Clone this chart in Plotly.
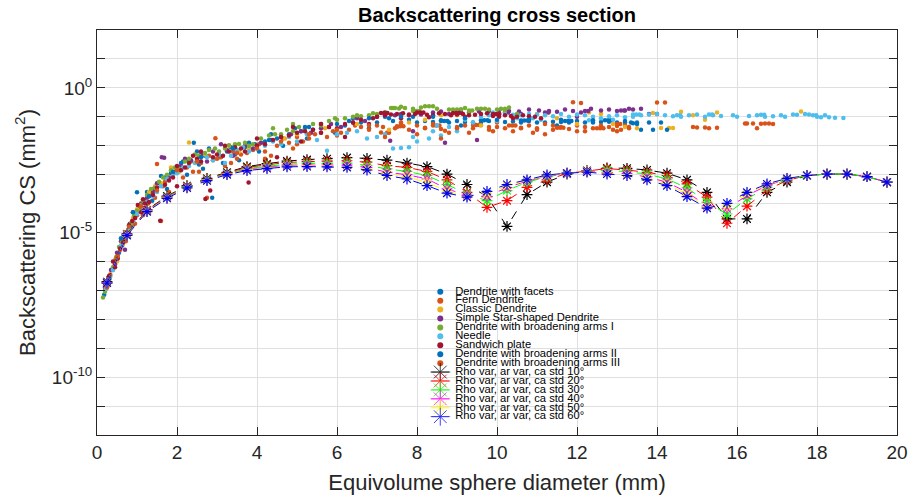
import plotly.graph_objects as go

# ---------------- data (diameter mm, log10 of backscattering CS in mm^2) ----------------
dendrite_facets = [
    (0.18, -7.15), (0.25, -6.8), (0.33, -6.5), (0.42, -6.2), (0.55, -5.7), (0.63, -5.45), (0.72, -5.2),
    (0.85, -4.8), (0.97, -4.4), (1.05, -4.1), (1.18, -3.9), (1.3, -3.75), (1.42, -3.5), (1.55, -3.3),
    (1.7, -3.1), (1.85, -2.95), (2.0, -2.8), (2.15, -2.55), (2.3, -2.5), (2.42, -1.9), (2.55, -2.65),
    (2.7, -2.35), (2.88, -3.8), (3.05, -2.4), (3.25, -2.2), (3.45, -2.3), (3.7, -2.05), (3.95, -1.95),
    (4.2, -1.85), (4.5, -1.75), (4.8, -1.6), (5.1, -1.5), (5.4, -1.45), (5.8, -1.35), (6.2, -1.3),
    (6.6, -1.2), (7.0, -1.2), (7.4, -1.15), (7.8, -1.1), (8.2, -1.15), (8.6, -1.12), (9.0, -1.15),
    (9.4, -1.2), (9.8, -1.15), (10.2, -1.18), (10.6, -1.2), (11.0, -1.2), (11.4, -1.17), (11.8, -1.2),
    (12.2, -1.2), (12.6, -1.18), (13.0, -1.2), (13.4, -1.22), (13.8, -1.2), (14.1, -1.2), (13.6, -1.45),
    (13.9, -1.45), (1.0, -3.61),
    (0.3, -6.55), (0.45, -6.0), (0.68, -5.3), (0.9, -4.65), (1.12, -4.25), (1.25, -3.6), (1.38, -3.9),
    (1.6, -3.05), (1.75, -3.5), (2.1, -2.6), (2.25, -3.0), (2.5, -2.2), (2.65, -2.8), (2.8, -2.1),
    (3.15, -2.6), (3.35, -2.05), (3.55, -2.5), (3.8, -1.9), (4.05, -2.2), (4.35, -1.6), (4.65, -2.0),
    (4.95, -1.4), (5.25, -1.75), (5.6, -1.25), (5.95, -1.55), (6.4, -1.05), (6.8, -1.4), (7.2, -1.0),
    (7.6, -1.3), (8.0, -1.2), (8.4, -1.18), (8.8, -1.2), (9.2, -1.18), (9.6, -1.2), (10.0, -1.15),
    (10.4, -1.16), (10.8, -1.15), (11.2, -1.2), (11.6, -1.18), (12.0, -1.15), (12.4, -1.2), (12.8, -1.17),
    (13.2, -1.2), (13.35, -1.2), (13.5, -1.2), (11.5, -1.3), (9.1, -1.3),
    (8.6, -1.15), (8.68, -1.15), (8.76, -1.15), (9.6, -1.12), (9.68, -1.12), (9.76, -1.12), (10.6, -1.13),
    (10.68, -1.13), (10.76, -1.13), (11.7, -1.15), (11.78, -1.15), (11.86, -1.15), (12.7, -1.12),
    (12.78, -1.12), (12.86, -1.12), (7.3, -1.05), (7.9, -1.0), (6.3, -1.15), (5.3, -1.35),
]
fern_dendrite = [
    (0.2, -7.0), (0.28, -6.6), (0.38, -6.3), (0.47, -5.9), (0.58, -5.6), (0.68, -5.2), (0.78, -4.95),
    (0.9, -4.6), (1.0, -4.4), (1.1, -4.15), (1.2, -3.95), (1.35, -3.7), (1.5, -3.45), (1.6, -4.6),
    (1.7, -3.25), (1.9, -3.0), (2.05, -2.85), (2.25, -2.75), (2.4, -2.9), (2.6, -2.6), (2.75, -3.8),
    (2.9, -2.5), (3.1, -2.4), (3.35, -2.6), (3.6, -2.3), (3.9, -2.15), (4.2, -2.2), (4.5, -2.0),
    (4.8, -1.9), (5.0, -1.7), (5.3, -1.75), (5.6, -1.55), (5.9, -1.5), (6.3, -1.45), (6.6, -1.35),
    (7.0, -1.3), (7.3, -1.55), (7.6, -1.25), (8.0, -1.3), (8.4, -1.25), (8.8, -1.55), (9.2, -1.3),
    (9.6, -1.28), (10.0, -1.35), (10.4, -1.5), (10.8, -1.3), (11.2, -1.25), (11.6, -1.35), (12.0, -1.3),
    (12.4, -1.4), (12.8, -1.35), (13.1, -1.45), (13.3, -1.4), (14.0, -0.51), (14.2, -0.51), (14.9, -1.35),
    (15.2, -1.37), (15.5, -1.38), (16.2, -1.23), (16.4, -1.23), (16.6, -1.24), (16.8, -1.23), (16.5, -1.4),
    (11.9, -0.5), (12.1, -0.52), (2.96, -1.74), (1.5, -2.63),
    (0.33, -6.45), (0.52, -5.8), (0.72, -5.3), (0.95, -4.7), (1.15, -4.4), (1.28, -4.0), (1.45, -3.8),
    (1.65, -3.4), (1.8, -3.6), (2.15, -3.1), (2.35, -2.55), (2.55, -2.9), (2.8, -2.35), (3.2, -2.7),
    (3.5, -2.45), (3.75, -2.25), (4.05, -1.95), (4.35, -2.35), (4.65, -1.75), (4.9, -2.1), (5.15, -1.85),
    (5.45, -1.6), (5.75, -1.7), (6.1, -1.55), (6.45, -1.3), (6.8, -1.45), (7.15, -1.35), (7.45, -1.4),
    (7.8, -1.45), (8.2, -1.38), (8.6, -1.42), (9.0, -1.35), (9.4, -1.4), (9.8, -1.35), (10.2, -1.4),
    (10.6, -1.38), (11.0, -1.4), (11.4, -1.3), (11.8, -1.42), (12.2, -1.35), (12.6, -1.3), (13.0, -1.32),
    (13.2, -1.3), (16.25, -1.23), (16.7, -1.23), (15.0, -1.37), (8.0, -1.6), (9.3, -1.55), (10.9, -1.55),
    (12.0, -1.5), (7.6, -1.2), (10.0, -1.2), (11.2, -1.6), (7.1, -1.54), (7.25, -1.55),
    (7.5, -1.33), (7.58, -1.33), (7.66, -1.33), (8.4, -1.3), (8.48, -1.3), (8.56, -1.3), (9.4, -1.28),
    (9.48, -1.28), (9.56, -1.28), (10.3, -1.3), (10.38, -1.3), (10.46, -1.3), (11.5, -1.38), (11.58, -1.38),
    (11.66, -1.38), (12.5, -1.4), (12.58, -1.4), (12.66, -1.4), (13.0, -1.25), (13.08, -1.25), (8.7, -1.48),
    (9.9, -1.5), (11.0, -1.45), (12.9, -1.45), (6.0, -1.65), (5.0, -1.95), (4.2, -2.45), (3.4, -2.2),
]
classic_dendrite = [
    (0.3, -6.7), (0.5, -6.0), (0.75, -5.0), (1.0, -4.2), (1.3, -3.6), (1.6, -3.3), (1.85, -2.75),
    (2.3, -1.89), (2.5, -2.5), (2.9, -2.45), (3.3, -2.0), (3.8, -2.1), (4.4, -1.8), (5.0, -1.6),
    (5.7, -1.4), (6.5, -1.25), (7.3, -1.45), (8.2, -1.1), (9.0, -0.95), (9.6, -1.3), (10.4, -1.0),
    (11.0, -0.9), (11.5, -1.05), (12.3, -0.85), (12.9, -1.25), (13.5, -1.4), (14.1, -1.39), (14.3, -1.39),
    (14.6, -0.83), (14.9, -0.95), (15.2, -1.1), (17.6, -0.82), (13.9, -0.87),
    (0.4, -6.3), (0.65, -5.4), (0.9, -4.5), (1.15, -3.95), (1.45, -3.4), (2.05, -2.9), (2.7, -2.3),
    (3.55, -2.2), (4.7, -1.75), (6.0, -1.45), (7.8, -1.2), (8.6, -0.95), (10.0, -0.92), (11.3, -0.85),
    (12.0, -1.25), (12.6, -0.9), (13.2, -1.35), (14.4, -1.39), (15.5, -0.85),
]
simple_star_dendrite = [
    (0.2, -6.9), (0.35, -6.3), (0.45, -6.1), (0.6, -5.3), (0.7, -5.6), (0.82, -4.7), (0.95, -4.5),
    (1.1, -4.0), (1.25, -3.8), (1.4, -3.6), (1.62, -2.4), (1.68, -2.42), (1.8, -3.1), (2.1, -2.7),
    (2.35, -2.5), (2.6, -2.3), (2.9, -2.2), (3.1, -1.95), (3.4, -2.35), (3.7, -2.0), (4.1, -1.9),
    (4.6, -1.7), (5.1, -1.5), (5.6, -1.4), (6.1, -1.35), (6.7, -1.15), (7.2, -0.85), (7.6, -0.9),
    (7.9, -1.5), (8.4, -0.85), (8.8, -0.9), (9.3, -0.85), (9.8, -0.8), (10.3, -0.8), (10.8, -0.75),
    (11.3, -0.8), (11.7, -0.75), (12.1, -0.85), (12.6, -0.78), (13.0, -0.8), (13.4, -0.75), (13.8, -0.9),
    (14.0, -0.9), (8.7, -1.9), (9.5, -1.8), (7.33, -1.83),
    (0.28, -6.6), (0.5, -5.7), (0.9, -4.3), (1.2, -4.15), (1.5, -3.3), (1.95, -2.9), (2.2, -2.45),
    (2.75, -2.55), (3.25, -2.15), (3.9, -2.1), (4.35, -1.8), (4.85, -1.6), (5.35, -1.55), (5.85, -1.25),
    (6.4, -1.2), (7.0, -1.0), (7.45, -0.95), (8.1, -0.92), (8.6, -0.82), (9.1, -0.8), (9.55, -0.82),
    (10.05, -0.78), (10.55, -0.82), (11.05, -0.78), (11.5, -0.83), (11.9, -0.8), (12.35, -0.72),
    (12.8, -0.75), (13.2, -0.78), (13.6, -0.72), (10.6, -0.9), (12.0, -1.0),
    (9.0, -0.83), (9.08, -0.83), (10.2, -0.85), (10.28, -0.85), (11.2, -0.85), (11.28, -0.85), (12.2, -0.8),
    (12.28, -0.8), (13.1, -0.78), (13.18, -0.78), (13.3, -0.72), (7.8, -0.95), (6.5, -1.05),
]
broadening_arms_1 = [
    (0.15, -7.25), (0.25, -6.9), (0.4, -6.2), (0.55, -5.5), (0.7, -5.15), (0.85, -4.7), (1.0, -4.25),
    (1.15, -3.9), (1.35, -3.5), (1.55, -3.25), (1.75, -3.0), (1.95, -2.75), (2.2, -2.55), (2.45, -2.3),
    (2.7, -2.25), (2.95, -2.1), (3.2, -2.1), (3.45, -1.95), (3.7, -1.9), (3.9, -1.95), (4.3, -1.65),
    (4.6, -1.6), (4.9, -1.5), (5.2, -1.4), (5.6, -1.3), (6.0, -1.1), (6.4, -1.0), (6.8, -0.95),
    (7.2, -0.85), (7.4, -0.7), (7.6, -0.65), (7.9, -0.72), (8.1, -0.68), (8.5, -0.72), (8.8, -0.75),
    (9.2, -0.7), (9.5, -0.72), (9.8, -0.75), (10.1, -0.72), (10.3, -0.68), (10.5, -0.9),
    (0.2, -7.05), (0.32, -6.55), (0.48, -5.85), (0.62, -5.35), (0.78, -4.95), (0.93, -4.4), (1.08, -4.05),
    (1.25, -3.7), (1.45, -3.45), (1.65, -3.1), (1.85, -2.85), (2.05, -2.8), (2.3, -2.45), (2.55, -2.35),
    (2.8, -2.15), (3.05, -2.2), (3.3, -1.98), (3.55, -1.94), (3.8, -2.0), (4.1, -1.75), (4.45, -1.6),
    (4.75, -1.45), (5.05, -1.35), (5.4, -1.25), (5.8, -1.15), (6.2, -1.05), (6.6, -0.98), (7.0, -0.9),
    (7.35, -0.7), (7.45, -0.7), (7.55, -0.71), (7.7, -0.7), (8.2, -0.64), (8.3, -0.64), (8.4, -0.64),
    (8.9, -0.75), (9.0, -0.75), (9.1, -0.74), (9.6, -0.72), (9.7, -0.72), (10.0, -0.75), (10.2, -0.72),
    (9.3, -0.9), (8.0, -0.85),
    (7.9, -0.8), (7.98, -0.8), (8.06, -0.8), (9.3, -0.78), (9.38, -0.78), (10.2, -0.8), (6.9, -0.88),
    (6.5, -0.95), (5.95, -1.05), (4.9, -1.25), (4.4, -1.4),
]
needle = [
    (0.22, -6.95), (0.4, -6.3), (0.6, -5.45), (0.8, -4.85), (1.0, -4.35), (1.25, -3.95), (1.5, -3.6),
    (1.75, -3.15), (2.0, -2.95), (2.3, -2.7), (2.6, -2.55), (2.9, -2.5), (3.2, -2.6), (3.5, -2.15),
    (3.8, -2.2), (4.2, -2.0), (4.6, -1.95), (5.0, -1.85), (5.5, -1.8), (6.0, -1.6), (6.5, -1.5),
    (7.0, -1.7), (7.4, -2.1), (7.6, -2.08), (7.8, -2.05), (8.0, -1.85), (8.3, -1.75), (8.6, -1.65),
    (9.0, -1.5), (9.4, -1.2), (9.8, -0.95), (10.2, -0.9), (10.6, -0.95), (11.0, -0.92), (11.4, -0.98),
    (11.8, -1.0), (12.2, -0.95), (12.6, -1.05), (13.0, -0.95), (13.4, -1.0), (13.8, -0.92), (14.2, -0.95),
    (14.6, -1.0), (15.0, -0.92), (15.4, -0.95), (15.9, -0.95), (16.3, -0.97), (16.7, -1.0), (17.1, -0.95),
    (17.4, -0.92), (17.7, -0.9), (18.0, -1.0), (18.3, -1.02), (18.66, -1.04), (8.5, -1.3), (10.0, -1.15),
    (5.75, -2.17),
    (0.32, -6.6), (0.7, -5.1), (0.9, -4.6), (1.15, -4.2), (1.4, -3.75), (1.6, -3.4), (1.9, -3.05),
    (2.15, -2.75), (2.45, -2.6), (2.75, -2.4), (3.05, -2.3), (3.35, -2.35), (3.65, -2.05), (4.0, -2.1),
    (4.4, -1.85), (4.8, -1.7), (5.25, -1.6), (6.25, -1.55), (6.75, -1.75), (7.2, -1.6), (7.9, -1.7),
    (8.4, -1.5), (8.8, -1.35), (9.2, -1.1), (9.6, -1.0), (10.4, -0.93), (10.8, -0.9), (11.2, -0.95),
    (11.6, -0.9), (12.0, -0.92), (12.4, -1.0), (12.8, -0.98), (13.2, -1.02), (13.6, -0.95), (14.0, -0.9),
    (14.4, -0.98), (14.8, -0.95), (15.2, -1.0), (15.6, -0.97), (16.0, -1.0), (16.5, -0.95), (16.9, -0.98),
    (17.2, -1.0), (17.5, -0.93), (17.8, -0.92), (18.1, -1.02), (18.45, -1.03), (12.3, -1.12), (10.9, -1.05),
    (13.4, -0.92), (13.48, -0.92), (13.56, -0.92), (14.5, -0.95), (14.58, -0.95), (15.3, -0.92),
    (15.38, -0.92), (16.6, -0.93), (16.68, -0.93), (17.9, -0.95), (17.98, -0.95), (18.2, -0.95),
    (11.1, -1.1), (10.5, -1.05), (12.9, -1.1), (9.9, -0.85),
]
sandwich_plate = [
    (0.25, -6.8), (0.4, -6.0), (0.52, -5.9), (0.65, -5.35), (0.8, -4.75), (0.95, -4.5), (1.1, -4.3),
    (1.2, -4.0), (1.4, -3.7), (1.58, -4.59), (1.7, -3.35), (1.9, -3.1), (2.1, -2.85), (2.3, -2.6),
    (2.5, -2.45), (2.71, -3.84), (2.83, -3.55), (3.0, -2.3), (3.3, -2.2), (3.6, -2.1), (3.79, -3.27),
    (4.0, -2.0), (4.4, -1.8), (4.8, -1.65), (5.2, -1.5), (5.6, -1.55), (6.0, -1.4), (6.4, -1.2),
    (6.8, -1.25), (7.2, -0.95), (7.5, -0.9), (7.8, -0.92), (8.1, -0.88), (8.4, -0.95), (8.7, -0.9),
    (9.0, -0.92), (9.3, -0.95), (9.6, -0.9), (9.9, -0.97), (10.2, -0.95), (10.5, -1.0), (10.8, -0.98),
    (11.1, -1.05), (6.2, -1.7), (5.1, -1.85),
    (0.3, -6.5), (0.45, -6.2), (0.58, -5.55), (0.72, -5.0), (0.88, -4.6), (1.02, -4.05), (1.15, -3.85),
    (1.3, -3.95), (1.5, -3.45), (1.8, -3.2), (2.0, -2.7), (2.2, -2.75), (2.4, -2.35), (2.6, -2.55),
    (2.9, -2.4), (3.15, -2.35), (3.45, -2.05), (3.7, -2.2), (4.2, -1.95), (4.6, -1.7), (5.0, -1.55),
    (5.4, -1.45), (5.8, -1.35), (6.2, -1.25), (6.6, -1.1), (7.0, -1.0), (7.35, -0.92), (7.65, -0.88),
    (7.95, -0.9), (8.25, -0.93), (8.55, -0.88), (8.85, -0.95), (9.15, -0.9), (9.45, -0.93), (9.75, -0.88),
    (10.05, -1.0), (10.35, -0.97), (10.65, -0.95), (10.95, -1.0), (2.0, -3.4), (3.2, -2.95), (4.5, -2.4),
    (7.1, -0.87), (7.18, -0.87), (7.26, -0.87), (8.0, -0.85), (8.08, -0.85), (8.16, -0.85), (8.9, -0.87),
    (8.98, -0.87), (9.06, -0.87), (9.9, -0.9), (9.98, -0.9), (10.06, -0.9), (6.9, -1.05), (7.6, -1.05),
    (8.3, -1.02), (9.2, -1.0), (10.4, -1.05), (4.0, -1.75), (4.9, -1.35), (5.6, -1.25), (3.2, -2.0),
    (2.6, -2.2),
]
broadening_arms_2 = [
    (0.3, -6.6), (0.6, -5.2), (0.9, -4.3), (1.3, -3.75), (1.9, -2.9), (2.6, -2.4), (3.4, -2.1),
    (4.3, -1.8), (5.2, -1.35), (6.0, -1.25), (6.8, -1.05), (7.6, -1.0), (8.4, -1.0), (9.2, -1.05),
    (10.0, -1.1), (10.8, -1.1), (11.6, -1.1), (12.4, -1.12), (13.2, -1.15), (13.5, -1.25), (14.25, -1.45),
]
broadening_arms_3 = [
    (0.25, -6.9), (0.5, -5.85), (0.8, -4.8), (1.1, -4.1), (1.5, -3.55), (2.0, -2.85), (2.5, -2.55),
    (3.0, -2.45), (3.5, -2.25), (4.0, -2.1), (4.6, -1.85), (5.3, -1.6), (6.0, -1.45), (6.8, -1.3),
    (7.5, -1.35), (8.2, -1.4), (9.0, -1.4), (9.8, -1.45), (10.6, -1.4), (11.4, -1.45), (12.2, -1.5),
    (13.0, -1.5), (13.3, -1.35), (15.3, -1.4), (16.9, -1.25), (7.2, -1.7), (8.6, -1.75),
]

category_names = [
    "Dendrite with facets", "Fern Dendrite", "Classic Dendrite", "Simple Star-shaped Dendrite",
    "Dendrite with broadening arms I", "Needle", "Sandwich plate",
    "Dendrite with broadening arms II", "Dendrite with broadening arms III",
]
category_points = [
    dendrite_facets, fern_dendrite, classic_dendrite, simple_star_dendrite,
    broadening_arms_1, needle, sandwich_plate, broadening_arms_2, broadening_arms_3,
]

curve_diameter_mm = [0.25, 0.75, 1.25, 1.75, 2.25, 2.75, 3.25, 3.75, 4.25, 4.75,
                     5.25, 5.75, 6.25, 6.75, 7.25, 7.75, 8.25, 8.75, 9.25, 9.75,
                     10.25, 10.75, 11.25, 11.75, 12.25, 12.75, 13.25, 13.75, 14.25, 14.75,
                     15.25, 15.75, 16.25, 16.75, 17.25, 17.75, 18.25, 18.75, 19.25, 19.75]
log10_cs_std10 = [-6.70, -5.05, -4.22, -3.74, -3.38, -3.13, -2.92, -2.72, -2.62, -2.53,
                  -2.48, -2.45, -2.41, -2.44, -2.50, -2.60, -2.72, -2.98, -3.34, -3.76,
                  -4.79, -3.69, -3.26, -2.98, -2.86, -2.77, -2.78, -2.84, -2.95, -3.18,
                  -3.61, -4.53, -4.53, -3.61, -3.26, -3.03, -2.98, -2.98, -3.07, -3.26]
log10_cs_std20 = [-6.72, -5.06, -4.23, -3.76, -3.40, -3.15, -2.94, -2.75, -2.66, -2.58,
                  -2.55, -2.53, -2.52, -2.57, -2.69, -2.75, -2.89, -3.18, -3.61, -4.13,
                  -3.90, -3.44, -3.18, -2.96, -2.87, -2.79, -2.84, -2.92, -3.03, -3.32,
                  -3.78, -4.68, -4.09, -3.53, -3.20, -3.03, -2.98, -2.98, -3.07, -3.26]
log10_cs_std30 = [-6.73, -5.07, -4.25, -3.78, -3.42, -3.17, -2.96, -2.79, -2.71, -2.64,
                  -2.61, -2.61, -2.60, -2.68, -2.80, -2.89, -3.03, -3.34, -3.67, -3.90,
                  -3.55, -3.26, -3.08, -2.95, -2.88, -2.85, -2.90, -2.98, -3.15, -3.46,
                  -3.95, -4.36, -3.84, -3.44, -3.17, -3.03, -2.98, -2.98, -3.07, -3.26]
log10_cs_std40 = [-6.74, -5.08, -4.26, -3.80, -3.44, -3.19, -2.98, -2.82, -2.75, -2.68,
                  -2.67, -2.67, -2.67, -2.75, -2.92, -3.00, -3.15, -3.49, -3.72, -3.75,
                  -3.45, -3.22, -3.05, -2.95, -2.89, -2.92, -2.96, -3.08, -3.26, -3.61,
                  -4.08, -4.18, -3.72, -3.38, -3.15, -3.03, -2.98, -2.98, -3.07, -3.26]
log10_cs_std50 = [-6.75, -5.09, -4.27, -3.81, -3.45, -3.20, -2.99, -2.84, -2.77, -2.71,
                  -2.70, -2.70, -2.72, -2.80, -2.98, -3.08, -3.27, -3.57, -3.76, -3.66,
                  -3.39, -3.20, -3.03, -2.95, -2.90, -2.95, -3.00, -3.13, -3.32, -3.69,
                  -4.12, -4.08, -3.66, -3.35, -3.14, -3.03, -2.98, -2.98, -3.07, -3.26]
log10_cs_std60 = [-6.75, -5.10, -4.28, -3.82, -3.46, -3.21, -3.00, -2.86, -2.79, -2.73,
                  -2.72, -2.73, -2.75, -2.84, -3.03, -3.15, -3.38, -3.64, -3.78, -3.58,
                  -3.34, -3.18, -3.01, -2.95, -2.91, -2.98, -3.03, -3.18, -3.38, -3.76,
                  -4.16, -3.99, -3.61, -3.32, -3.13, -3.03, -2.98, -2.98, -3.07, -3.26]
curve_names = ["Rho var, ar var, ca std 10°", "Rho var, ar var, ca std 20°", "Rho var, ar var, ca std 30°",
               "Rho var, ar var, ca std 40°", "Rho var, ar var, ca std 50°", "Rho var, ar var, ca std 60°"]
curve_values = [log10_cs_std10, log10_cs_std20, log10_cs_std30, log10_cs_std40, log10_cs_std50, log10_cs_std60]

y_label_exponents = [-10, -5, 0]
y_label_texts = ["10<sup>-10</sup>", "10<sup>-5</sup>", "10<sup>0</sup>"]
y_grid_exponents = list(range(-12, 3))

# ---------------- styles ----------------
category_colors = ["#0072BD", "#D95319", "#EDB120", "#7E2F8E", "#77AC30", "#4DBEEE", "#A2142F", "#0072BD", "#D95319"]
curve_colors = ["#000000", "#FF0000", "#00FF00", "#FF00FF", "#FFFF00", "#0000FF"]
FONT = "Liberation Sans, Arial, sans-serif"
AX = "#262626"
GRID = "#DFDFDF"

fig = go.Figure()

for name, color, pts in zip(category_names, category_colors, category_points):
    fig.add_trace(go.Scatter(
        x=[p[0] for p in pts], y=[10 ** p[1] for p in pts], mode="markers", name=name,
        marker=dict(color=color, size=4.5, line=dict(width=0)), showlegend=False))

for name, color, vals in zip(curve_names, curve_colors, curve_values):
    fig.add_trace(go.Scatter(
        x=curve_diameter_mm, y=[10 ** v for v in vals], mode="lines+markers", name=name,
        line=dict(color=color, width=1, dash="dash"),
        marker=dict(symbol="asterisk-open", size=9, color=color, line=dict(color=color, width=1.2)),
        showlegend=False))

# ---------------- legend drawn on a helper axis (rows = entry index) ----------------
all_names = category_names + curve_names
rows = list(range(len(all_names)))
for i, (name, color) in enumerate(zip(category_names, category_colors)):
    fig.add_trace(go.Scatter(x=[0], y=[rows[i]], xaxis="x2", yaxis="y2", mode="markers",
                             marker=dict(color=color, size=6), showlegend=False, hoverinfo="skip",
                             cliponaxis=False))
for j, (name, color) in enumerate(zip(curve_names, curve_colors)):
    r = rows[len(category_names) + j]
    fig.add_trace(go.Scatter(x=[-1, 1], y=[r, r], xaxis="x2", yaxis="y2", mode="lines",
                             line=dict(color=color, width=1), opacity=0.6,
                             showlegend=False, hoverinfo="skip", cliponaxis=False))
    fig.add_trace(go.Scatter(x=[0], y=[r], xaxis="x2", yaxis="y2", mode="markers",
                             marker=dict(symbol="asterisk-open", size=15, color=color,
                                         line=dict(color=color, width=1)), opacity=0.75,
                             showlegend=False, hoverinfo="skip", cliponaxis=False))
fig.add_trace(go.Scatter(x=[1.5] * len(rows), y=rows, xaxis="x2", yaxis="y2", mode="text",
                         text=all_names, textposition="middle right",
                         textfont=dict(family=FONT, size=11.2, color="#000000"),
                         showlegend=False, hoverinfo="skip", cliponaxis=False))

fig.update_layout(
    width=910, height=500,
    margin=dict(l=97, r=13, t=30, b=65, autoexpand=False),
    paper_bgcolor="white", plot_bgcolor="rgba(0,0,0,0)",
    font=dict(family=FONT, color=AX),
    title=dict(text="<b>Backscattering cross section</b>", x=0.5, xref="paper", xanchor="center",
               y=0.97, yref="container", yanchor="middle", font=dict(size=20, color="#000000")),
    xaxis=dict(range=[0, 20], tick0=0, dtick=2, showgrid=True, gridcolor=GRID, gridwidth=1,
               zeroline=False, showline=True, linecolor=AX, linewidth=1, mirror="ticks",
               ticks="inside", ticklen=8, tickcolor=AX, tickfont=dict(size=19, color=AX),
               title=dict(text="Equivolume sphere diameter (mm)", font=dict(size=22, color=AX), standoff=12)),
    yaxis=dict(type="log", range=[-12, 2],
               tickvals=[10.0 ** e for e in y_label_exponents], ticktext=y_label_texts,
               showgrid=True, gridcolor=GRID, gridwidth=1, zeroline=False,
               showline=True, linecolor=AX, linewidth=1, mirror="ticks",
               ticks="inside", ticklen=8, tickcolor=AX, tickfont=dict(size=19, color=AX),
               minor=dict(tickvals=[10.0 ** e for e in y_grid_exponents], ticks="inside", ticklen=8,
                          tickcolor=AX, showgrid=True, gridcolor=GRID, gridwidth=1),
               title=dict(text="Backscattering CS (mm<sup>2</sup>)", font=dict(size=22, color=AX), standoff=10)),
    xaxis2=dict(domain=[0.4166, 0.6], range=[-1, 13.67], visible=False, anchor="y2", fixedrange=True),
    yaxis2=dict(domain=[0.0452, 0.3538], range=[14, 0], visible=False, anchor="x2", fixedrange=True),
)

fig.write_html("out.html")
